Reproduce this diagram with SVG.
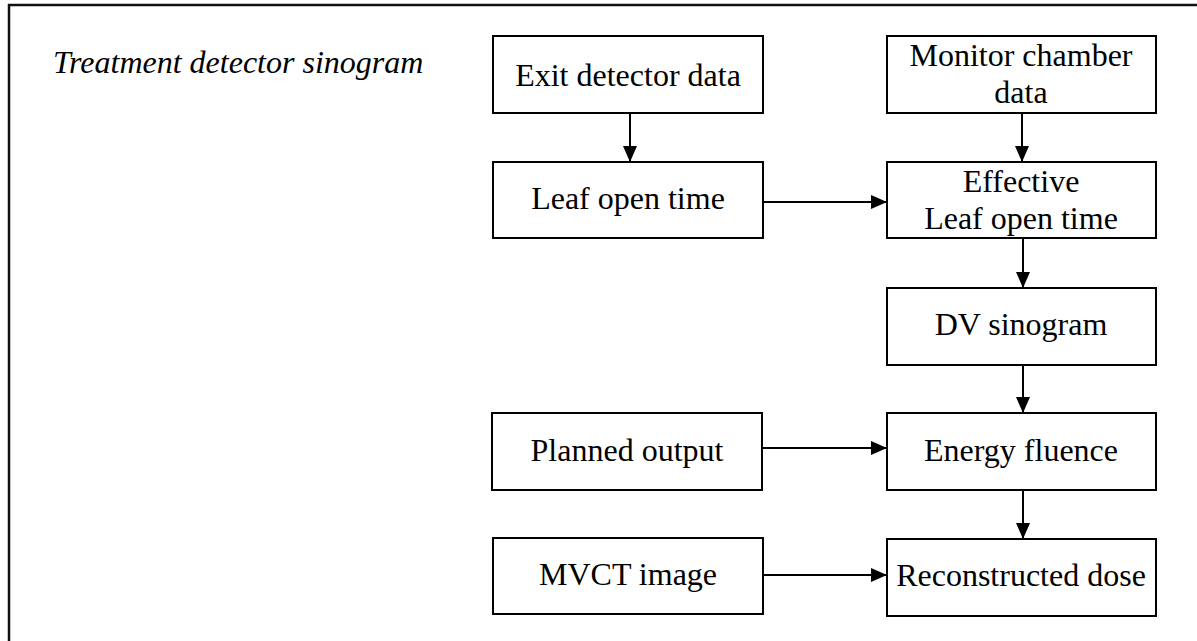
<svg xmlns="http://www.w3.org/2000/svg" width="1197" height="641" viewBox="0 0 1197 641">
<style>
.box{fill:#fff;stroke:#000;stroke-width:2}
.t{font-family:"Liberation Serif","Times New Roman",serif;font-size:32px;fill:#000;text-anchor:middle}
.title{font-family:"Liberation Serif","Times New Roman",serif;font-size:32px;font-style:italic;fill:#000}
.c{stroke:#000;stroke-width:2;fill:none}
.frame{stroke:#111;stroke-width:2.5;fill:none}
</style>
<defs>
<marker id="ah" viewBox="0 0 16 14" refX="16" refY="7" markerWidth="16" markerHeight="14" markerUnits="userSpaceOnUse" orient="auto">
<path d="M0,0 L16,7 L0,14 Z" fill="#000"/>
</marker>
</defs>
<rect width="1197" height="641" fill="#fff"/>
<g id="frame">
<path class="frame" d="M9,641 L9,5 L1197,5"/>
</g>
<g id="title">
<text class="title" x="53" y="73">Treatment detector sinogram</text>
</g>
<g id="exit">
<rect class="box" x="493" y="36" width="270" height="77"/>
<text class="t" x="628" y="86">Exit detector data</text>
</g>
<g id="leaf">
<rect class="box" x="493" y="162" width="270" height="76"/>
<text class="t" x="628" y="209">Leaf open time</text>
</g>
<g id="monitor">
<rect class="box" x="887" y="36" width="269" height="77"/>
<text class="t" x="1021" y="66">Monitor chamber</text>
<text class="t" x="1021" y="103">data</text>
</g>
<g id="effective">
<rect class="box" x="887" y="162" width="269" height="76"/>
<text class="t" x="1021" y="192">Effective</text>
<text class="t" x="1021" y="229">Leaf open time</text>
</g>
<g id="dv">
<rect class="box" x="887" y="288" width="269" height="77"/>
<text class="t" x="1021" y="335">DV sinogram</text>
</g>
<g id="planned">
<rect class="box" x="492" y="413" width="270" height="77"/>
<text class="t" x="627" y="461">Planned output</text>
</g>
<g id="energy">
<rect class="box" x="887" y="413" width="269" height="77"/>
<text class="t" x="1021" y="461">Energy fluence</text>
</g>
<g id="mvct">
<rect class="box" x="493" y="538" width="270" height="76"/>
<text class="t" x="628" y="585">MVCT image</text>
</g>
<g id="recon">
<rect class="box" x="887" y="539" width="269" height="77"/>
<text class="t" x="1021" y="586">Reconstructed dose</text>
</g>
<g id="connectors">
<line class="c" x1="630" y1="113" x2="630" y2="162" marker-end="url(#ah)"/>
<line class="c" x1="763" y1="202" x2="887" y2="202" marker-end="url(#ah)"/>
<line class="c" x1="1022" y1="113" x2="1022" y2="162" marker-end="url(#ah)"/>
<line class="c" x1="1023" y1="238" x2="1023" y2="288" marker-end="url(#ah)"/>
<line class="c" x1="1023" y1="365" x2="1023" y2="413" marker-end="url(#ah)"/>
<line class="c" x1="762" y1="448" x2="887" y2="448" marker-end="url(#ah)"/>
<line class="c" x1="1023" y1="490" x2="1023" y2="539" marker-end="url(#ah)"/>
<line class="c" x1="763" y1="575" x2="887" y2="575" marker-end="url(#ah)"/>
</g>
</svg>
